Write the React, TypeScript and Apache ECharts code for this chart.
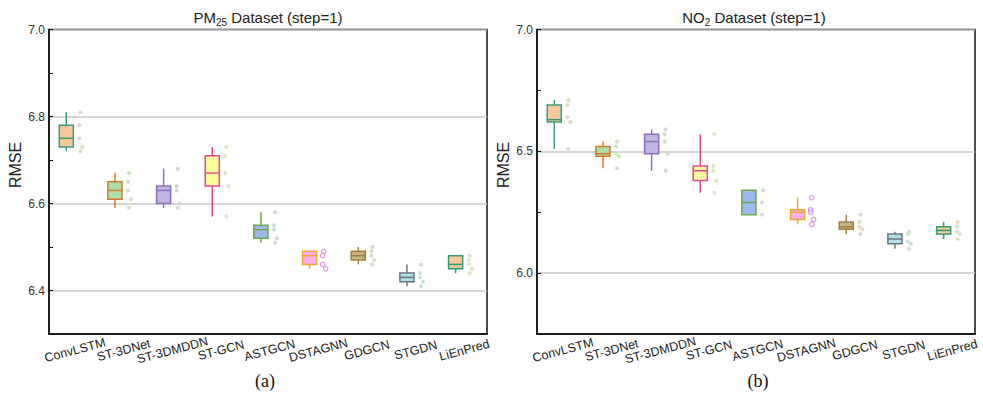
import React, { useEffect, useRef } from 'react';
import * as echarts from 'echarts';

const models = ['ConvLSTM', 'ST-3DNet', 'ST-3DMDDN', 'ST-GCN', 'ASTGCN', 'DSTAGNN', 'GDGCN', 'STGDN', 'LiEnPred'];

// [min, Q1, median, Q3, max]
const pm25Box = [
  [6.72, 6.73, 6.75, 6.78, 6.81],
  [6.59, 6.61, 6.63, 6.65, 6.67],
  [6.59, 6.60, 6.63, 6.64, 6.68],
  [6.57, 6.64, 6.67, 6.71, 6.73],
  [6.51, 6.52, 6.54, 6.55, 6.58],
  [6.45, 6.46, 6.48, 6.49, 6.49],
  [6.46, 6.47, 6.48, 6.49, 6.50],
  [6.41, 6.42, 6.43, 6.44, 6.46],
  [6.44, 6.45, 6.46, 6.48, 6.48],
];
const pm25Points = [
  [6.81, 6.78, 6.75, 6.73, 6.72],
  [6.67, 6.65, 6.63, 6.61, 6.59],
  [6.68, 6.64, 6.63, 6.60, 6.59],
  [6.73, 6.71, 6.67, 6.64, 6.57],
  [6.58, 6.55, 6.54, 6.52, 6.51],
  [6.49, 6.48, 6.46, 6.45],
  [6.50, 6.49, 6.48, 6.47, 6.46],
  [6.46, 6.44, 6.43, 6.42, 6.41],
  [6.48, 6.47, 6.46, 6.45, 6.44],
];

const no2Box = [
  [6.51, 6.62, 6.63, 6.69, 6.71],
  [6.43, 6.48, 6.49, 6.52, 6.54],
  [6.42, 6.49, 6.54, 6.57, 6.59],
  [6.33, 6.38, 6.42, 6.44, 6.57],
  [6.24, 6.24, 6.29, 6.34, 6.34],
  [6.20, 6.22, 6.25, 6.26, 6.31],
  [6.16, 6.18, 6.19, 6.21, 6.24],
  [6.10, 6.12, 6.14, 6.16, 6.17],
  [6.14, 6.16, 6.175, 6.19, 6.21],
];
const no2Points = [
  [6.71, 6.69, 6.64, 6.62, 6.51],
  [6.54, 6.52, 6.49, 6.48, 6.43],
  [6.59, 6.57, 6.54, 6.49, 6.42],
  [6.57, 6.44, 6.42, 6.38, 6.33],
  [6.34, 6.29, 6.24],
  [6.31, 6.26, 6.25, 6.22, 6.20],
  [6.24, 6.21, 6.19, 6.18, 6.16],
  [6.17, 6.16, 6.13, 6.12, 6.10],
  [6.21, 6.19, 6.17, 6.16, 6.14],
];

const boxFill = ['#f9c89a', '#a8e0a8', '#c4b4e0', '#ffff9c', '#a0b8f0', '#ffb0f0', '#c8b482', '#b0e0ea', '#f8c896'];
const boxStroke = ['#3a9e78', '#d9782c', '#8a70c0', '#e8468c', '#6aaa48', '#f0a830', '#a08040', '#6a7880', '#2e9e72'];
const dotColor = ['#dcdcc0', '#c4e4bc', '#d0dcd0', '#dce8c4', '#c8dcdc', '#e39be3', '#d8dcc4', '#c8e0cc', '#e4e0c0'];
const jitter = [7, 6, 6, 9, 7];

const FONT = "'Liberation Sans', Arial, sans-serif";

function boxRender(params: any, api: any) {
  const i = api.value(0);
  const mn = api.value(1), q1 = api.value(2), md = api.value(3), q3 = api.value(4), mx = api.value(5);
  const bw = api.size([1, 0])[0];
  const w = bw * 0.29;
  const cx = api.coord([i, md])[0];
  const left = cx - w;
  const mid = cx - w / 2;
  const y = (v: number) => api.coord([i, v])[1];
  const k = params.dataIndex;
  const ls = { stroke: boxStroke[k], lineWidth: 1.5, fill: 'none' };
  return {
    type: 'group',
    children: [
      { type: 'line', shape: { x1: mid, y1: y(mx), x2: mid, y2: y(q3) }, style: ls },
      { type: 'line', shape: { x1: mid, y1: y(q1), x2: mid, y2: y(mn) }, style: ls },
      { type: 'rect', shape: { x: left, y: y(q3), width: w, height: y(q1) - y(q3) }, style: { fill: boxFill[k], stroke: boxStroke[k], lineWidth: 1.5 } },
      { type: 'line', shape: { x1: left, y1: y(md), x2: cx, y2: y(md) }, style: ls },
    ],
  };
}

function dotRender(params: any, api: any) {
  const i = api.value(0);
  const v = api.value(1);
  const j = api.value(2);
  const p = api.coord([i, v]);
  const hollow = i === 5;
  return {
    type: 'circle',
    shape: { cx: p[0] + jitter[j % jitter.length], cy: p[1], r: hollow ? 2.2 : 2 },
    style: hollow ? { fill: 'none', stroke: dotColor[i], lineWidth: 1.2 } : { fill: dotColor[i] },
  };
}

function makeAxes(gridIndex: number, min: number, max: number, interval: number, showLabel: (v: number) => boolean) {
  const xAxis = {
    type: 'category',
    gridIndex,
    data: models,
    boundaryGap: true,
    axisLine: { lineStyle: { color: '#111', width: 1.5 } },
    axisTick: { alignWithLabel: true, inside: true, length: 5, lineStyle: { color: '#111', width: 1 } },
    axisLabel: { rotate: 15, align: 'center', verticalAlign: 'top', margin: 10, fontSize: 12.5, color: '#222', fontFamily: FONT, interval: 0 },
    splitLine: { show: false },
  };
  const yAxis = {
    type: 'value',
    gridIndex,
    min,
    max,
    interval,
    axisLine: { show: true, lineStyle: { color: '#111', width: 1.5 } },
    axisTick: { show: true, inside: true, length: 4, lineStyle: { color: '#111', width: 1 } },
    axisLabel: {
      margin: 4,
      fontSize: 12,
      color: '#333',
      fontFamily: FONT,
      formatter: (v: number) => (showLabel(v) ? v.toFixed(1) : ''),
    },
    splitLine: { show: true, lineStyle: { color: ['transparent', '#c8c8c8'], width: 1.5 } },
  };
  return { xAxis, yAxis };
}

export default function App() {
  const ref = useRef<HTMLDivElement>(null);
  useEffect(() => {
    document.body.style.margin = '0';
    if (!ref.current) return;
    const chart = echarts.init(ref.current, undefined, { renderer: 'svg' });
    const a0 = makeAxes(0, 6.3, 7.0, 0.1, (v) => Math.round(v * 10) % 2 === 0 && v > 6.35);
    const a1 = makeAxes(1, 5.75, 7.0, 0.25, (v) => Math.abs(v * 2 - Math.round(v * 2)) < 1e-6);

    const boxData = (b: number[][]) => b.map((r, i) => [i, ...r]);
    const dotData = (pts: number[][]) => {
      const out: number[][] = [];
      pts.forEach((arr, i) => arr.forEach((v, j) => out.push([i, v, j])));
      return out;
    };

    chart.setOption({
      animation: false,
      backgroundColor: '#fff',
      grid: [
        { left: 49, top: 29.5, width: 438, height: 304.5, show: true, borderColor: '#111', borderWidth: 1.5, backgroundColor: 'transparent' },
        { left: 537, top: 29.5, width: 438, height: 304.5, show: true, borderColor: '#111', borderWidth: 1.5, backgroundColor: 'transparent' },
      ],
      xAxis: [a0.xAxis, a1.xAxis],
      yAxis: [a0.yAxis, a1.yAxis],
      series: [
        { type: 'custom', xAxisIndex: 0, yAxisIndex: 0, renderItem: dotRender, data: dotData(pm25Points), encode: { x: 0, y: 1 }, z: 3 },
        { type: 'custom', xAxisIndex: 0, yAxisIndex: 0, renderItem: boxRender, data: boxData(pm25Box), encode: { x: 0, y: [1, 2, 3, 4, 5] }, z: 4 },
        { type: 'custom', xAxisIndex: 1, yAxisIndex: 1, renderItem: dotRender, data: dotData(no2Points), encode: { x: 0, y: 1 }, z: 3 },
        { type: 'custom', xAxisIndex: 1, yAxisIndex: 1, renderItem: boxRender, data: boxData(no2Box), encode: { x: 0, y: [1, 2, 3, 4, 5] }, z: 4 },
      ],
      graphic: [
        {
          type: 'text', x: 268, y: 17,
          style: {
            text: '{n|PM}{s|25}{n| Dataset (step=1)}',
            rich: { n: { fontSize: 15, fontFamily: FONT, fill: '#222' }, s: { fontSize: 10, fontFamily: FONT, fill: '#222', padding: [10, 0, 0, 0] } },
            align: 'center', verticalAlign: 'middle',
          },
        },
        {
          type: 'text', x: 754, y: 17,
          style: {
            text: '{n|NO}{s|2}{n| Dataset (step=1)}',
            rich: { n: { fontSize: 15, fontFamily: FONT, fill: '#222' }, s: { fontSize: 10, fontFamily: FONT, fill: '#222', padding: [10, 0, 0, 0] } },
            align: 'center', verticalAlign: 'middle',
          },
        },
        { type: 'text', x: 15, y: 165, rotation: Math.PI / 2, style: { text: 'RMSE', fontSize: 16, fontFamily: FONT, fill: '#222', align: 'center', verticalAlign: 'middle' } },
        { type: 'text', x: 503, y: 165, rotation: Math.PI / 2, style: { text: 'RMSE', fontSize: 16, fontFamily: FONT, fill: '#222', align: 'center', verticalAlign: 'middle' } },
        { type: 'text', x: 265, y: 381, style: { text: '(a)', fontSize: 18, fontFamily: "'Liberation Serif', 'Times New Roman', serif", fill: '#111', align: 'center', verticalAlign: 'middle' } },
        { type: 'text', x: 758, y: 381, style: { text: '(b)', fontSize: 18, fontFamily: "'Liberation Serif', 'Times New Roman', serif", fill: '#111', align: 'center', verticalAlign: 'middle' } },
      ],
    });
    return () => chart.dispose();
  }, []);
  return <div ref={ref} style={{ width: 983, height: 393 }} />;
}
